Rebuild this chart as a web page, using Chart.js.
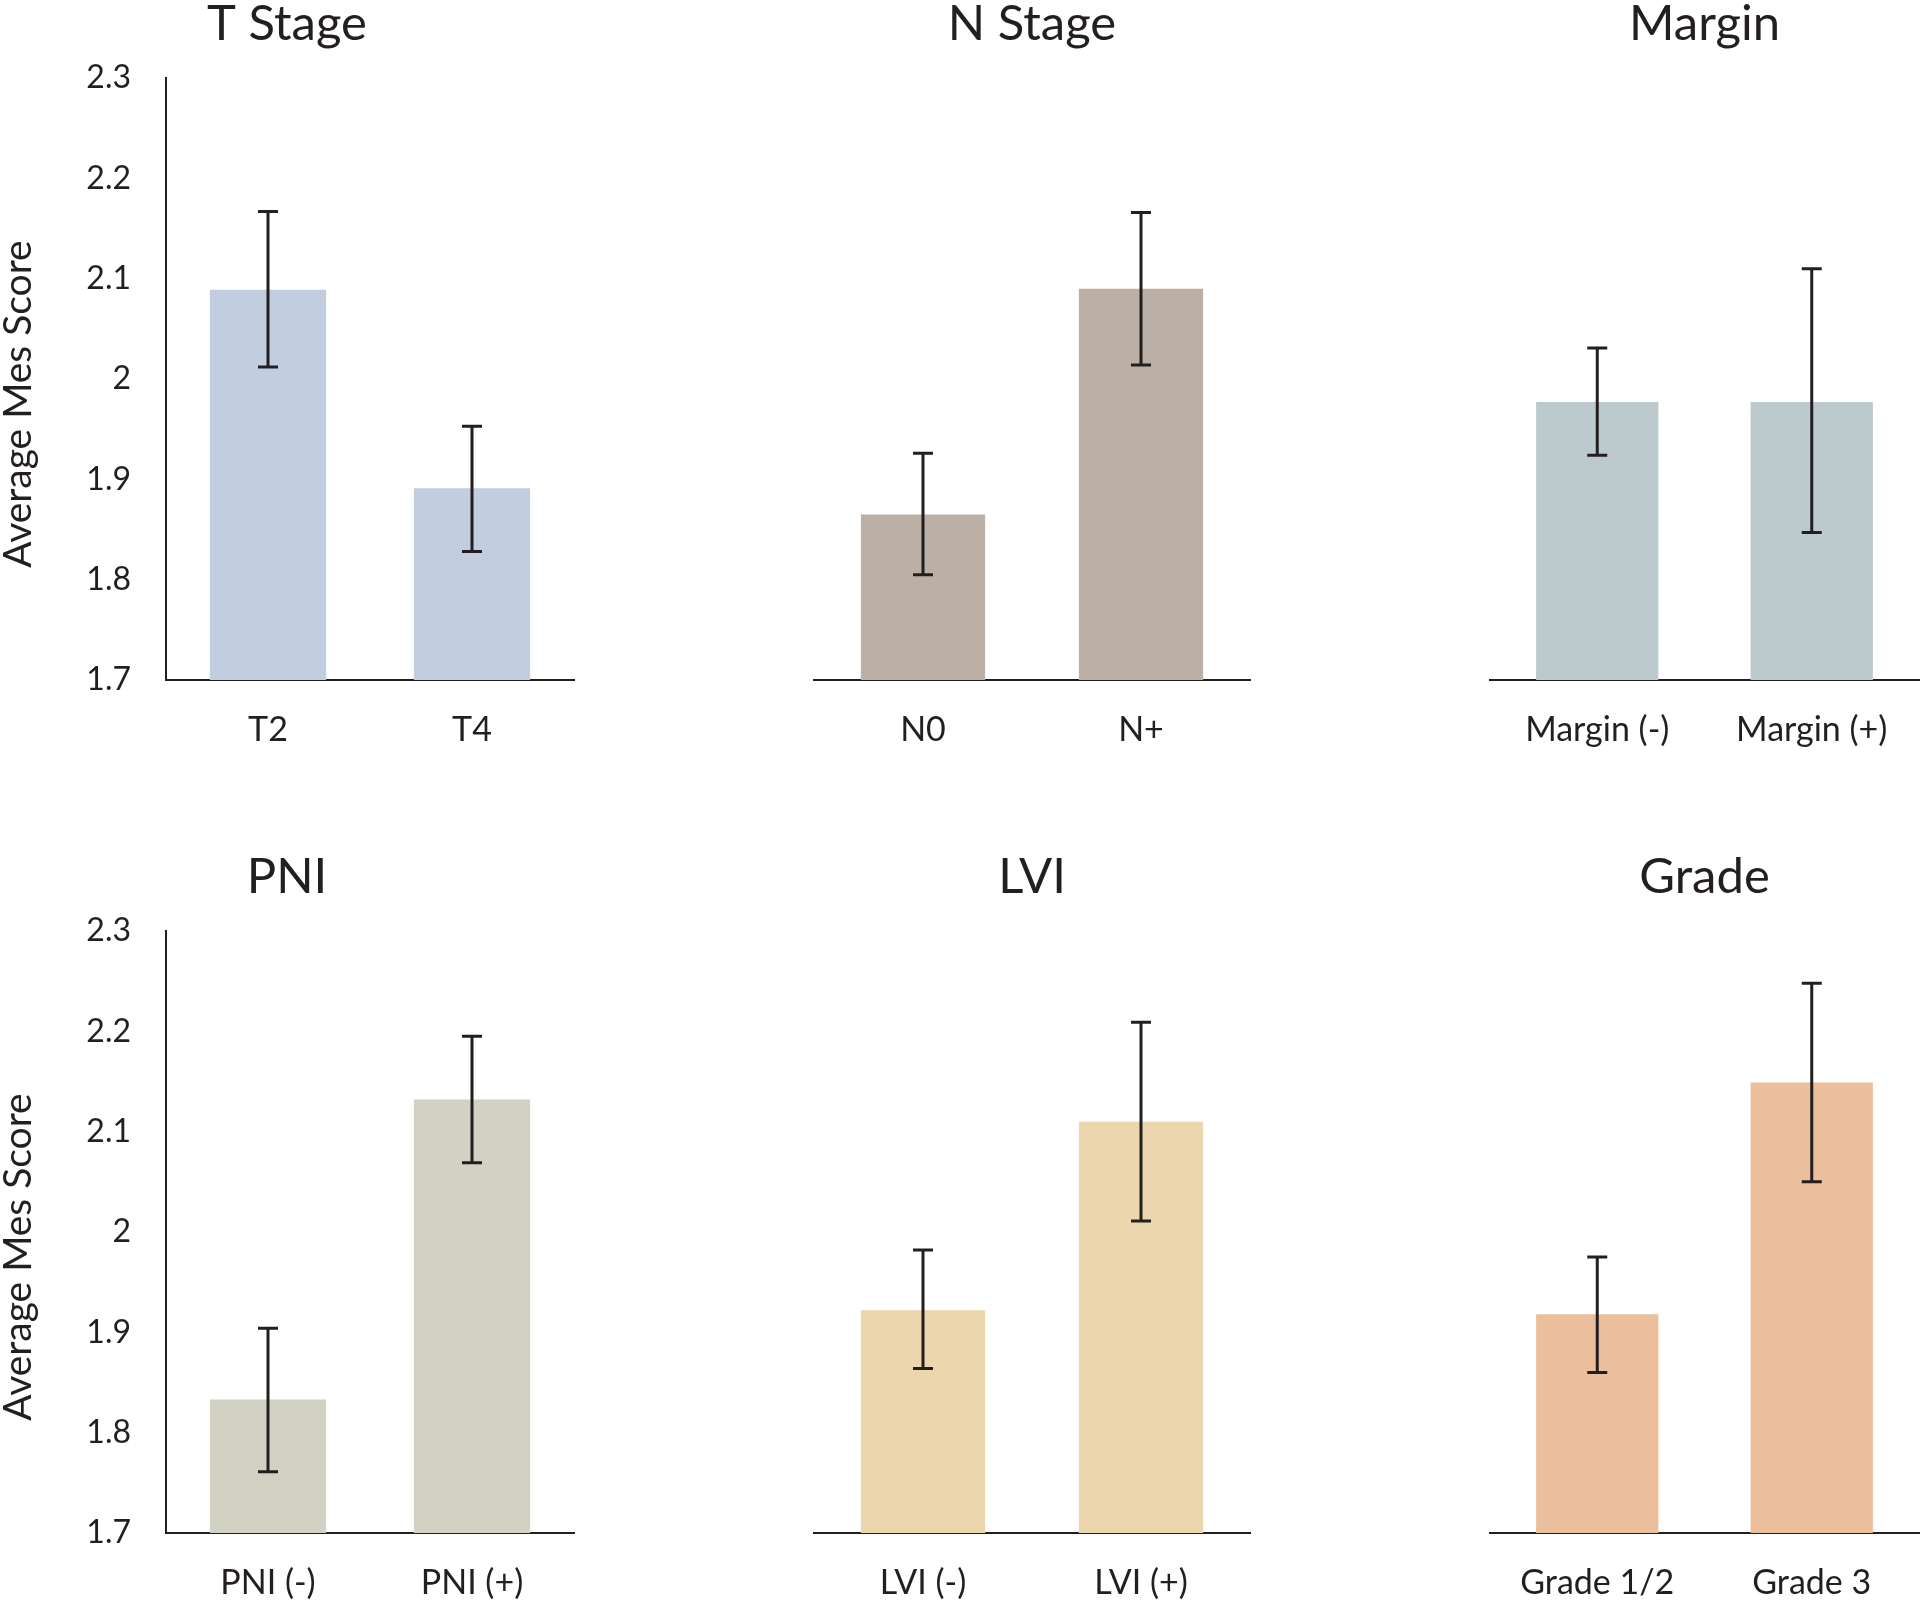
<!DOCTYPE html>
<html>
<head>
<meta charset="utf-8">
<script src="https://cdn.jsdelivr.net/npm/chart.js@4"></script>
<style>
  body { margin: 0; background: #fff; }
  #wrap { position: relative; width: 1920px; height: 1604px; }
  .panel { position: absolute; }
</style>
</head>
<body>
<div id="wrap"></div>
<script>
// panel titles
const titles = ['T Stage', 'N Stage', 'Margin', 'PNI', 'LVI', 'Grade'];

// T stage
const tLabels = ['T2', 'T4'];
const tMeans = [2.089, 1.891];
const tLow = [2.012, 1.828];
const tHigh = [2.167, 1.953];

// N stage
const nLabels = ['N0', 'N+'];
const nMeans = [1.865, 2.090];
const nLow = [1.805, 2.014];
const nHigh = [1.926, 2.166];

// Margin
const mLabels = ['Margin (-)', 'Margin (+)'];
const mMeans = [1.977, 1.977];
const mLow = [1.924, 1.847];
const mHigh = [2.031, 2.110];

// PNI
const pniLabels = ['PNI (-)', 'PNI (+)'];
const pniMeans = [1.833, 2.132];
const pniLow = [1.761, 2.069];
const pniHigh = [1.904, 2.195];

// LVI
const lviLabels = ['LVI (-)', 'LVI (+)'];
const lviMeans = [1.922, 2.110];
const lviLow = [1.864, 2.011];
const lviHigh = [1.982, 2.209];

// Grade
const gLabels = ['Grade 1/2', 'Grade 3'];
const gMeans = [1.918, 2.149];
const gLow = [1.860, 2.050];
const gHigh = [1.975, 2.248];

const yTitle = 'Average Mes Score';
const yTicks = [1.7, 1.8, 1.9, 2, 2.1, 2.2, 2.3];

const FONT = 'Lato, "Open Sans", sans-serif';
const INK = '#231f20';

// error bars drawn from the y scale
const errorBars = {
  id: 'errorBars',
  afterDatasetsDraw(chart, args, opts) {
    const ctx = chart.ctx;
    const y = chart.scales.y;
    const meta = chart.getDatasetMeta(0);
    ctx.save();
    ctx.strokeStyle = INK;
    ctx.lineWidth = 3;
    meta.data.forEach((bar, i) => {
      const yl = y.getPixelForValue(opts.low[i]);
      const yh = y.getPixelForValue(opts.high[i]);
      ctx.beginPath();
      ctx.moveTo(bar.x, yh); ctx.lineTo(bar.x, yl);
      ctx.moveTo(bar.x - 10, yh); ctx.lineTo(bar.x + 10, yh);
      ctx.moveTo(bar.x - 10, yl); ctx.lineTo(bar.x + 10, yl);
      ctx.stroke();
    });
    ctx.restore();
  }
};

// rotated y axis title on the left panels
const sideTitle = {
  id: 'sideTitle',
  afterDraw(chart, args, opts) {
    if (!opts.text) return;
    const ctx = chart.ctx;
    ctx.save();
    ctx.translate(18, 404);
    ctx.rotate(-Math.PI / 2);
    ctx.font = '39px ' + FONT;
    ctx.fillStyle = INK;
    ctx.textAlign = 'center';
    ctx.textBaseline = 'middle';
    ctx.fillText(opts.text, 0, 0);
    ctx.restore();
  }
};

const panels = [
  { left: 0,    top: 0,   width: 582, padL: 0,  padR: 8,  labels: tLabels,   means: tMeans,   low: tLow,   high: tHigh,   color: '#c2cedf', axis: true },
  { left: 797,  top: 0,   width: 463, padL: 17, padR: 10, labels: nLabels,   means: nMeans,   low: nLow,   high: nHigh,   color: '#bcb0a6', axis: false },
  { left: 1482, top: 0,   width: 438, padL: 8,  padR: 1,  labels: mLabels,   means: mMeans,   low: mLow,   high: mHigh,   color: '#bccace', axis: false },
  { left: 0,    top: 853, width: 582, padL: 0,  padR: 8,  labels: pniLabels, means: pniMeans, low: pniLow, high: pniHigh, color: '#d1d2c4', axis: true },
  { left: 797,  top: 853, width: 463, padL: 17, padR: 10, labels: lviLabels, means: lviMeans, low: lviLow, high: lviHigh, color: '#ebd6ad', axis: false },
  { left: 1482, top: 853, width: 438, padL: 8,  padR: 1,  labels: gLabels,   means: gMeans,   low: gLow,   high: gHigh,   color: '#ebbf9c', axis: false }
];

const wrap = document.getElementById('wrap');

panels.forEach((p, k) => {
  const div = document.createElement('div');
  div.className = 'panel';
  div.style.left = p.left + 'px';
  div.style.top = p.top + 'px';
  const cv = document.createElement('canvas');
  cv.width = p.width;
  cv.height = 750;
  div.appendChild(cv);
  wrap.appendChild(div);

  new Chart(cv.getContext('2d'), {
    type: 'bar',
    data: {
      labels: p.labels,
      datasets: [{
        data: p.means,
        backgroundColor: p.color,
        borderWidth: 0,
        barPercentage: 0.57,
        categoryPercentage: 1
      }]
    },
    options: {
      responsive: false,
      animation: false,
      layout: { padding: { left: p.padL, right: p.padR, top: 0, bottom: 0 } },
      plugins: {
        legend: { display: false },
        tooltip: { enabled: false },
        title: {
          display: true,
          text: titles[k],
          color: INK,
          font: { family: FONT, size: 49, weight: 'normal', lineHeight: 1 },
          padding: { top: 0, bottom: 29 }
        },
        errorBars: { low: p.low, high: p.high },
        sideTitle: { text: p.axis ? yTitle : '' }
      },
      scales: {
        x: {
          grid: { display: false, drawTicks: false },
          border: { display: true, color: INK, width: 2 },
          ticks: { color: INK, font: { family: FONT, size: 34 }, padding: 30, maxRotation: 0, autoSkip: false },
          afterFit(scale) { scale.height = 70; }
        },
        y: {
          display: p.axis,
          min: 1.7,
          max: 2.3,
          grid: { display: false, drawTicks: false },
          border: { display: true, color: INK, width: 2 },
          afterBuildTicks(scale) { scale.ticks = yTicks.map(v => ({ value: v })); },
          ticks: {
            color: INK,
            font: { family: FONT, size: 32 },
            padding: 35,
            callback: v => String(Number(v.toFixed(1)))
          },
          afterFit(scale) { scale.width = p.axis ? 166 : 0; }
        }
      }
    },
    plugins: [errorBars, sideTitle]
  });
});
</script>
</body>
</html>
